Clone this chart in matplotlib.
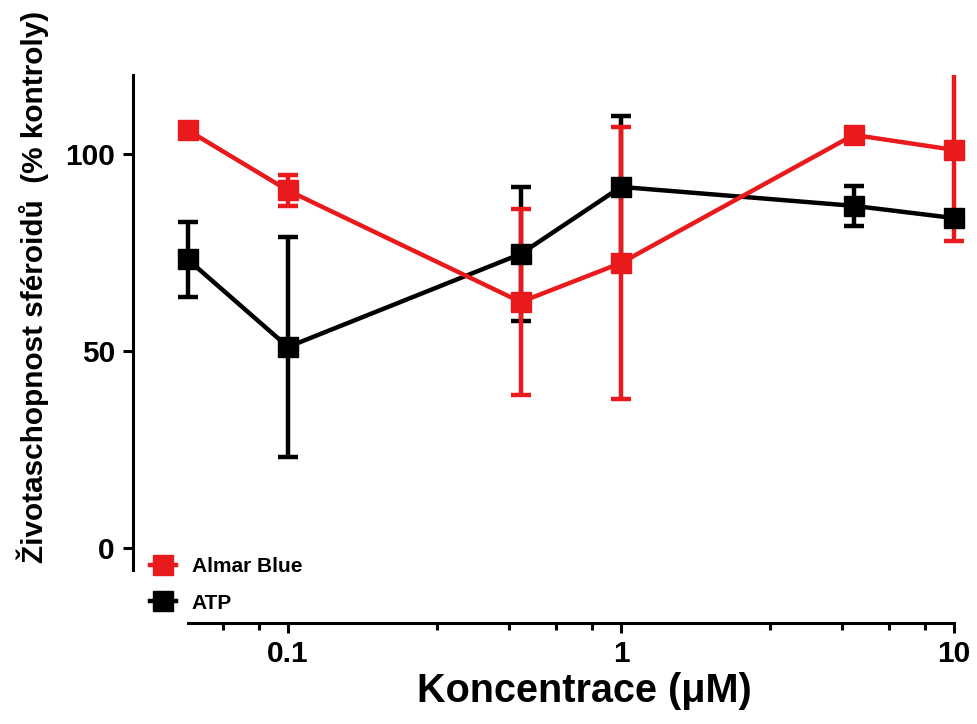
import matplotlib
matplotlib.use("Agg")
import math
import matplotlib.pyplot as plt
from matplotlib.ticker import FixedLocator, NullFormatter, FixedFormatter
from matplotlib.lines import Line2D

plt.rcParams['font.family'] = ['Liberation Sans', 'DejaVu Sans']

conc = [0.05, 0.1, 0.5, 1, 5, 10]
almar_mean = [106, 90.7, 62.4, 72.3, 104.8, 101]
almar_err = [1.5, 4, 23.5, 34.5, 1.5, 23]
atp_mean = [73.2, 51, 74.6, 91.6, 86.8, 83.7]
atp_err = [9.5, 28, 17, 18, 5, 1.5]

series_labels = ["Almar Blue", "ATP"]
x_major = [0.1, 1, 10]
x_major_labels = ["0.1", "1", "10"]
x_minor = [0.064, 0.082, 0.28, 0.46, 0.64, 0.82, 2.8, 4.6, 6.4, 8.2]
y_ticks = [0, 50, 100]

RED = '#ea1a1c'
BLACK = '#000000'

W, H = 978, 724
fig = plt.figure(figsize=(W / 100, H / 100), dpi=100)

# axes geometry in pixels
xlo, xhi = 0.04, 11.0
px_dec = 333.0
x_left = 288 - (math.log10(0.1) - math.log10(xlo)) * px_dec
x_right = 621 + math.log10(xhi) * px_dec
y_top, y_bot = 75, 570
ax = fig.add_axes([x_left / W, 1 - y_bot / H, (x_right - x_left) / W, (y_bot - y_top) / H])
ax.set_xscale('log')
ax.set_xlim(xlo, xhi)
ax.set_ylim(-5.6, 120)

lw = 3.2
for mean, err, col in [(atp_mean, atp_err, BLACK), (almar_mean, almar_err, RED)]:
    ax.errorbar(conc, mean, yerr=err, color=col, lw=lw, elinewidth=lw,
                capsize=7, capthick=lw, marker='s', markersize=15)

for s in ['top', 'right']:
    ax.spines[s].set_visible(False)
ax.spines['left'].set_position(('outward', (x_left - 133) * 0.72))
ax.spines['left'].set_bounds(-5.6, 120)
ax.spines['bottom'].set_position(('outward', (623 - y_bot) * 0.72))
ax.spines['bottom'].set_bounds(0.05, 10)
for s in ['left', 'bottom']:
    ax.spines[s].set_linewidth(2.2)

ax.xaxis.set_major_locator(FixedLocator(x_major))
ax.xaxis.set_major_formatter(FixedFormatter(x_major_labels))
ax.xaxis.set_minor_locator(FixedLocator(x_minor))
ax.xaxis.set_minor_formatter(NullFormatter())
ax.yaxis.set_major_locator(FixedLocator(y_ticks))
ax.tick_params(axis='both', which='major', length=7, width=2.2, labelsize=21.5)
ax.tick_params(axis='x', which='major', pad=5)
ax.tick_params(axis='y', which='major', pad=6)
ax.tick_params(axis='x', which='minor', length=5, width=2.2)
ax.tick_params(axis='y', which='minor', left=False)
for lab in ax.get_xticklabels() + ax.get_yticklabels():
    lab.set_fontweight('bold')

fig.text(584 / W, 1 - 691 / H, 'Koncentrace (\u03bcM)', ha='center', va='center',
         fontsize=28.5, fontweight='bold')
fig.text(33 / W, 1 - 287 / H, 'Životaschopnost sféroidů  (% kontroly)', ha='center',
         va='center', rotation=90, fontsize=21.4, fontweight='bold')

handles = [Line2D([], [], color=RED, marker='s', markersize=15, lw=lw),
           Line2D([], [], color=BLACK, marker='s', markersize=15, lw=lw)]
fig.legend(handles, series_labels, loc='upper left',
           bbox_to_anchor=(150 / W, 1 - 557 / H), frameon=False,
           handlelength=1.25, handletextpad=0.75, labelspacing=0.85,
           prop={'size': 15, 'weight': 'bold'}, borderaxespad=0, borderpad=0)

fig.savefig('out.png', dpi=100)
